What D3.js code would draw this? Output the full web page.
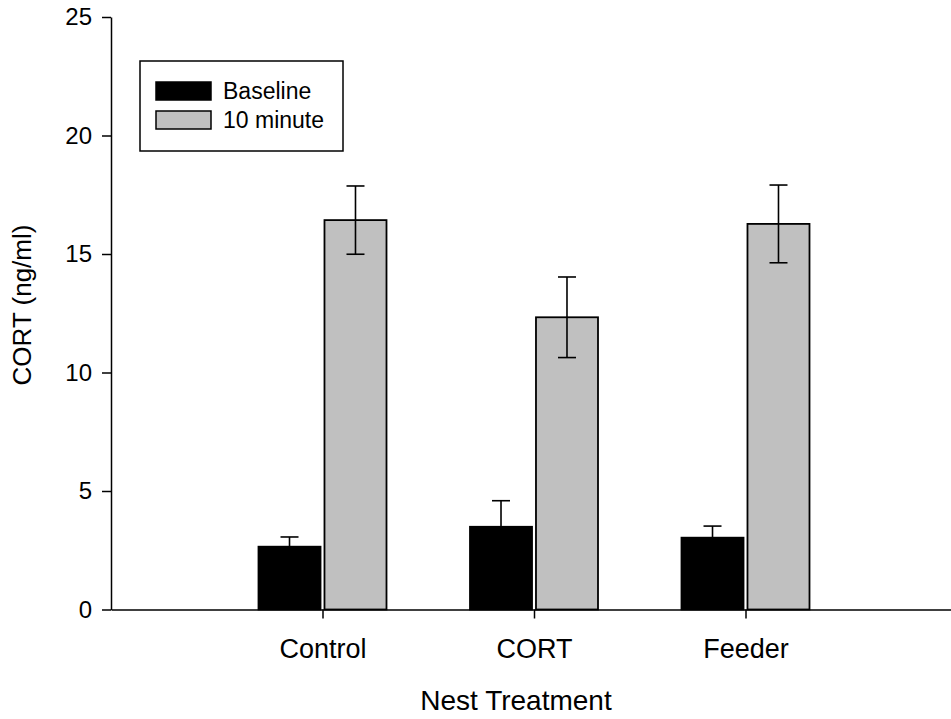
<!DOCTYPE html>
<html>
<head>
<meta charset="utf-8">
<script src="https://cdn.jsdelivr.net/npm/d3@7"></script>
<style>
  html, body { margin: 0; padding: 0; background: #fff; }
  svg { display: block; font-family: Arial, "Liberation Sans", sans-serif; }
</style>
</head>
<body>
<div id="chart"></div>
<script>
const categories = ['Control', 'CORT', 'Feeder'];
const seriesNames = ['Baseline', '10 minute'];
const baselineValues = [2.65, 3.49, 3.03];
const baselineErrors = [0.41, 1.1, 0.49];
const tenMinuteValues = [16.43, 12.33, 16.27];
const tenMinuteErrors = [1.44, 1.7, 1.64];
const yTicks = [0, 5, 10, 15, 20, 25];

const width = 951;
const height = 719;
const colors = { 'Baseline': '#000000', '10 minute': '#c0c0c0' };

const rows = categories.map((c, i) => ({
  category: c,
  values: [
    { series: 'Baseline', value: baselineValues[i], err: baselineErrors[i] },
    { series: '10 minute', value: tenMinuteValues[i], err: tenMinuteErrors[i] }
  ]
}));

const svg = d3.select('#chart')
  .append('svg')
  .attr('width', width)
  .attr('height', height);

const x = d3.scalePoint()
  .domain(categories)
  .range([111, 957])
  .padding(1);

const x1 = d3.scaleBand()
  .domain(seriesNames)
  .range([-64, 64])
  .paddingInner(0.06);

const y = d3.scaleLinear()
  .domain([0, 25])
  .range([609.5, 17]);

// bars
const groups = svg.append('g')
  .selectAll('g')
  .data(rows)
  .join('g')
  .attr('transform', (d) => `translate(${x(d.category)},0)`);

groups.selectAll('rect')
  .data((d) => d.values)
  .join('rect')
  .attr('x', (d) => x1(d.series))
  .attr('y', (d) => y(d.value))
  .attr('width', x1.bandwidth())
  .attr('height', (d) => y(0) - y(d.value))
  .attr('fill', (d) => colors[d.series])
  .attr('stroke', '#000')
  .attr('stroke-width', 1.8);

// error bars
const capHalf = 9;
const err = groups.selectAll('g.err')
  .data((d) => d.values)
  .join('g')
  .attr('class', 'err')
  .attr('stroke', '#000')
  .attr('stroke-width', 1.6);

err.append('line')
  .attr('x1', (d) => x1(d.series) + x1.bandwidth() / 2)
  .attr('x2', (d) => x1(d.series) + x1.bandwidth() / 2)
  .attr('y1', (d) => y(d.value - d.err))
  .attr('y2', (d) => y(d.value + d.err));

err.append('line')
  .attr('x1', (d) => x1(d.series) + x1.bandwidth() / 2 - capHalf)
  .attr('x2', (d) => x1(d.series) + x1.bandwidth() / 2 + capHalf)
  .attr('y1', (d) => y(d.value + d.err))
  .attr('y2', (d) => y(d.value + d.err));

err.append('line')
  .attr('x1', (d) => x1(d.series) + x1.bandwidth() / 2 - capHalf)
  .attr('x2', (d) => x1(d.series) + x1.bandwidth() / 2 + capHalf)
  .attr('y1', (d) => y(d.value - d.err))
  .attr('y2', (d) => y(d.value - d.err));

// y axis
const yAxis = svg.append('g')
  .attr('transform', 'translate(111,0)')
  .call(d3.axisLeft(y).tickValues(yTicks).tickSize(9).tickSizeOuter(0).tickPadding(10));
yAxis.selectAll('path, line').attr('stroke', '#000').attr('stroke-width', 1.5);
yAxis.selectAll('text').attr('font-size', 24).attr('fill', '#000')
  .attr('font-family', 'Arial, "Liberation Sans", sans-serif');

// x axis
const xAxis = svg.append('g')
  .attr('transform', `translate(0,${y(0)})`)
  .call(d3.axisBottom(x).tickSize(9).tickSizeOuter(0).tickPadding(20));
xAxis.selectAll('path, line').attr('stroke', '#000').attr('stroke-width', 1.5);
xAxis.selectAll('text').attr('font-size', 27).attr('fill', '#000')
  .attr('font-family', 'Arial, "Liberation Sans", sans-serif');

// axis titles
svg.append('text')
  .attr('x', 516)
  .attr('y', 710)
  .attr('text-anchor', 'middle')
  .attr('font-size', 28)
  .text('Nest Treatment');

svg.append('text')
  .attr('transform', 'translate(31,305) rotate(-90)')
  .attr('text-anchor', 'middle')
  .attr('font-size', 26)
  .text('CORT (ng/ml)');

// legend
const legend = svg.append('g');
legend.append('rect')
  .attr('x', 140)
  .attr('y', 61)
  .attr('width', 203)
  .attr('height', 90)
  .attr('fill', '#fff')
  .attr('stroke', '#000')
  .attr('stroke-width', 1.5);

const items = legend.selectAll('g.item')
  .data(seriesNames)
  .join('g')
  .attr('class', 'item')
  .attr('transform', (d, i) => `translate(156,${82 + i * 29})`);

items.append('rect')
  .attr('width', 55)
  .attr('height', 18)
  .attr('fill', (d) => colors[d])
  .attr('stroke', '#000')
  .attr('stroke-width', 1.5);

items.append('text')
  .attr('x', 67)
  .attr('y', 9)
  .attr('dy', '0.35em')
  .attr('font-size', 23)
  .text((d) => d);
</script>
</body>
</html>
